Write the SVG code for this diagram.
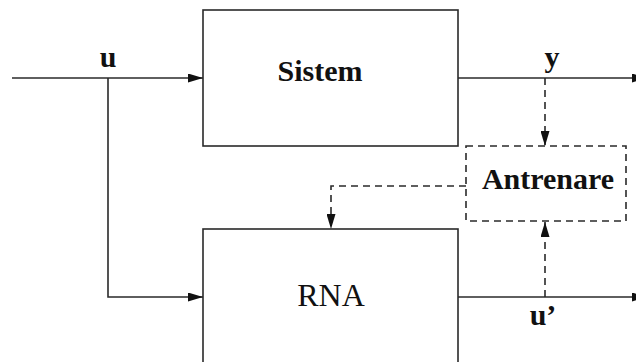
<svg xmlns="http://www.w3.org/2000/svg" width="636" height="362" viewBox="0 0 636 362">
  <style>
    .box { fill: #fff; stroke: #2a2a2a; stroke-width: 1.6; }
    .dbox { fill: none; stroke: #2a2a2a; stroke-width: 1.6; stroke-dasharray: 7 5; }
    .wire { fill: none; stroke: #2a2a2a; stroke-width: 1.6; }
    .dash { fill: none; stroke: #2a2a2a; stroke-width: 1.6; stroke-dasharray: 7 5; }
    .lbl { font-family: "Liberation Serif", "Times New Roman", serif; font-size: 30px; fill: #111; }
    .b { font-weight: bold; }
  </style>
  <defs>
    <marker id="arr" viewBox="0 0 15 9" refX="15" refY="4.5" markerWidth="15" markerHeight="9" markerUnits="userSpaceOnUse" orient="auto">
      <path d="M0,0 L15,4.5 L0,9 Z" fill="#111"/>
    </marker>
  </defs>

  <g id="connectors">
    <!-- input u to Sistem, with branch down to RNA -->
    <line class="wire" x1="12" y1="78" x2="203" y2="78" marker-end="url(#arr)"/>
    <polyline class="wire" points="108,78 108,297 203,297" marker-end="url(#arr)"/>
    <!-- outputs -->
    <line class="wire" x1="458" y1="78" x2="647" y2="78" marker-end="url(#arr)"/>
    <line class="wire" x1="458" y1="297" x2="647" y2="297" marker-end="url(#arr)"/>
    <!-- training feedback (dashed) -->
    <line class="dash" x1="545" y1="78" x2="545" y2="146" marker-end="url(#arr)"/>
    <line class="dash" x1="545" y1="297" x2="545" y2="222" marker-end="url(#arr)"/>
    <polyline class="dash" points="466,186 331,186 331,229" marker-end="url(#arr)"/>
    <!-- signal labels -->
    <text class="lbl b" x="108" y="67" text-anchor="middle">u</text>
    <text class="lbl b" x="552" y="67" text-anchor="middle">y</text>
    <text class="lbl b" x="543" y="325" text-anchor="middle">u’</text>
  </g>

  <g id="sistem">
    <rect class="box" x="203" y="10" width="255" height="136"/>
    <text class="lbl b" x="320" y="81" text-anchor="middle">Sistem</text>
  </g>

  <g id="rna">
    <rect class="box" x="203" y="229" width="255" height="150"/>
    <text class="lbl" x="331" y="306" text-anchor="middle" style="font-size:32px">RNA</text>
  </g>

  <g id="antrenare">
    <rect class="dbox" x="466" y="146" width="160" height="75"/>
    <text class="lbl b" x="548" y="189" text-anchor="middle">Antrenare</text>
  </g>
</svg>
